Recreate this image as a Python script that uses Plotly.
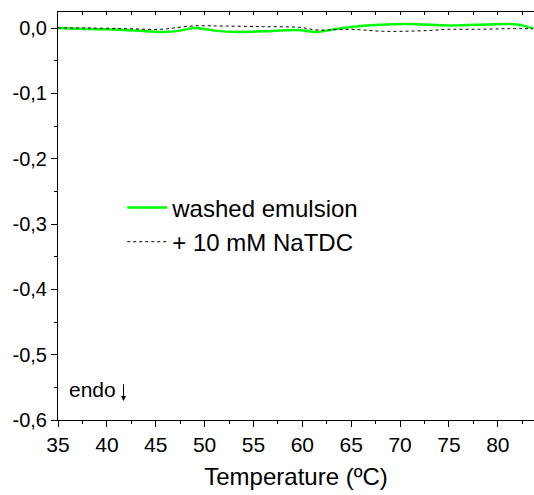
import plotly.graph_objects as go

# DSC traces
temp_washed = [35, 37, 40, 43, 45.8, 47.5, 48.9, 51, 53.4, 56, 59.5, 61.5, 63.6, 66, 68, 70.8, 73, 75.2, 78, 81.3, 82.5, 83.6]
heat_washed = [0.0, -0.001, -0.002, -0.004, -0.006, -0.004, 0.0, -0.004, -0.006, -0.005, -0.003, -0.006, -0.001, 0.003, 0.005, 0.006, 0.005, 0.004, 0.005, 0.006, 0.004, -0.001]

temp_natdc = [35, 38, 42, 45.5, 48.6, 52, 56, 59.7, 61.5, 64.9, 68.3, 72.7, 75, 78, 81, 83.6]
heat_natdc = [0.0, 0.0, -0.001, -0.002, 0.003, 0.003, 0.002, 0.001, -0.003, -0.002, -0.005, -0.004, -0.002, -0.002, -0.001, -0.001]

y_tickvals = [0, -0.1, -0.2, -0.3, -0.4, -0.5, -0.6]
y_ticktext = ['0,0', '-0,1', '-0,2', '-0,3', '-0,4', '-0,5', '-0,6']

x_range = [35, 83.7]
y_range = [-0.6, 0.0245]

fig = go.Figure()
fig.add_trace(go.Scatter(x=temp_washed, y=heat_washed, mode='lines', name='washed emulsion',
                         line=dict(color='#00ff00', width=2.5, shape='spline')))
fig.add_trace(go.Scatter(x=temp_natdc, y=heat_natdc, mode='lines', name='+ 10 mM NaTDC',
                         line=dict(color='black', width=1, dash='dot', shape='spline')))
# dummy trace so the top axis gets drawn
fig.add_trace(go.Scatter(x=[x_range[0]], y=[0], xaxis='x2', mode='lines',
                         showlegend=False, hoverinfo='skip', line=dict(width=0)))

fig.update_layout(
    width=534, height=495,
    margin=dict(l=58, r=0, t=12, b=75),
    plot_bgcolor='white', paper_bgcolor='white',
    font=dict(family='Liberation Sans, Arial', size=20, color='black'),
    separators=', ',
    showlegend=True,
    legend=dict(x=0.135, y=0.575, xanchor='left', yanchor='top', bgcolor='rgba(0,0,0,0)',
                font=dict(size=24), tracegroupgap=0, itemwidth=40),
    xaxis=dict(range=x_range, dtick=5, tick0=35, showline=True, linecolor='black', linewidth=1,
               ticks='outside', ticklen=6, tickcolor='black', showgrid=False, zeroline=False,
               automargin=False,
               minor=dict(dtick=2.5, ticks='outside', ticklen=3, tickcolor='black'),
               title=dict(text='Temperature (ºC)', font=dict(size=24), standoff=12),
               tickfont=dict(size=21)),
    xaxis2=dict(range=x_range, overlaying='x', side='top', anchor='y', showline=True,
                linecolor='black', linewidth=1, ticks='inside', ticklen=3, dtick=2.5,
                tick0=35, tickcolor='black', showticklabels=False, showgrid=False, zeroline=False,
                automargin=False),
    yaxis=dict(range=y_range, tickvals=y_tickvals, ticktext=y_ticktext,
               showline=True, linecolor='black', linewidth=1, mirror=True, automargin=False,
               ticks='outside', ticklen=6, tickcolor='black', showgrid=False, zeroline=False,
               minor=dict(tickvals=[-0.05, -0.15, -0.25, -0.35, -0.45, -0.55], ticks='outside',
                          ticklen=3, tickcolor='black'),
               tickfont=dict(size=20)),
)

fig.add_annotation(x=38.5, y=-0.554, text='endo', showarrow=False, font=dict(size=21))
fig.add_annotation(x=41.7, y=-0.571, ax=41.7, ay=-0.543, axref='x', ayref='y', text='',
                   showarrow=True, arrowhead=2, arrowsize=1, arrowwidth=1, arrowcolor='black')

fig.write_html("out.html", config={'displayModeBar': False},
               post_script="document.body.style.margin='0';")
